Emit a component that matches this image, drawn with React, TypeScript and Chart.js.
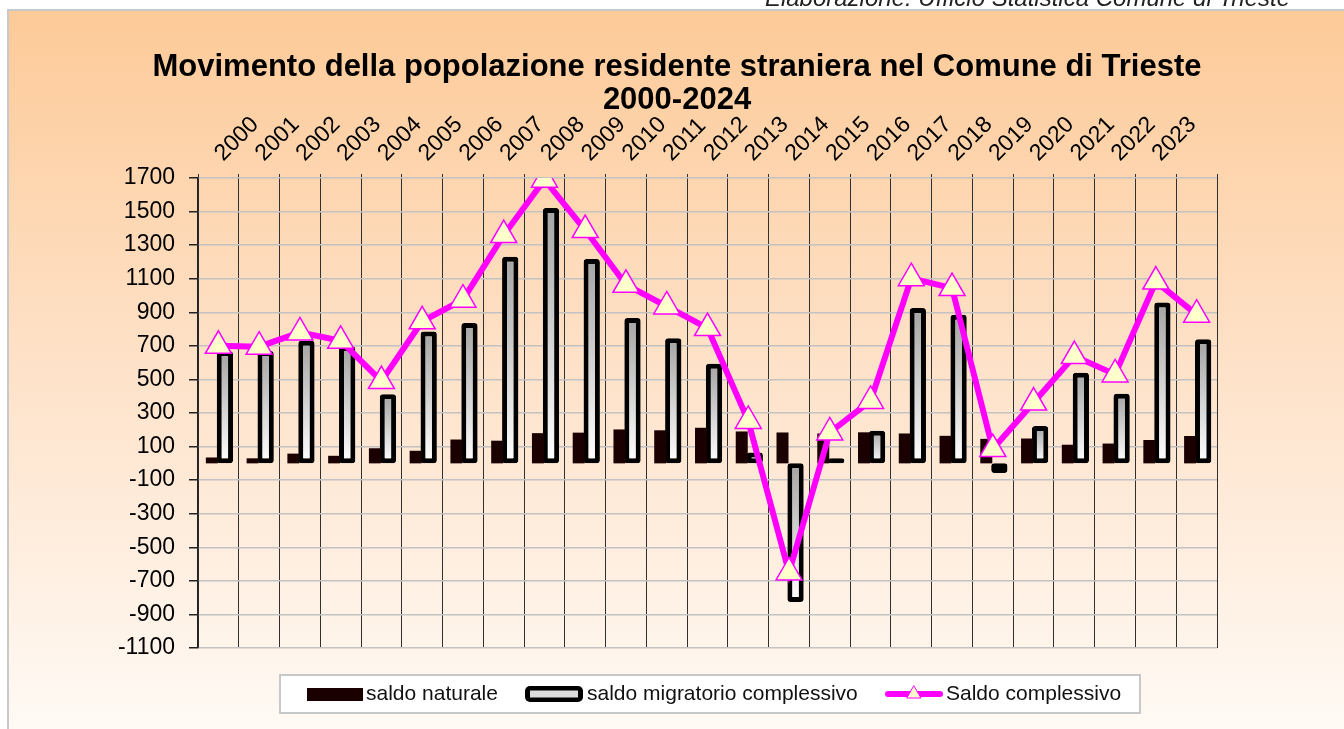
import React, { useEffect, useRef } from 'react';
import { Chart, registerables } from 'chart.js';

Chart.register(...registerables);

const years = ['2000', '2001', '2002', '2003', '2004', '2005', '2006', '2007', '2008', '2009', '2010', '2011', '2012', '2013', '2014', '2015', '2016', '2017', '2018', '2019', '2020', '2021', '2022', '2023', ''];
const saldoNaturale = [35, 30, 58, 45, 90, 75, 142, 135, 180, 183, 202, 197, 212, 190, 184, 178, 185, 178, 164, 146, 148, 111, 118, 139, 163];
const saldoMigratorio = [668, 670, 730, 698, 411, 786, 836, 1231, 1522, 1218, 866, 746, 593, 65, -826, 30, 195, 925, 886, -58, 222, 540, 414, 958, 740];
const saldoComplessivo = [700, 695, 780, 730, 490, 846, 975, 1360, 1690, 1390, 1064, 935, 806, 253, -650, 184, 372, 1103, 1044, 85, 362, 639, 530, 1083, 886];

const yMin = -1100;
const yMax = 1700;
const yStep = 200;

const titleLines = ['Movimento della popolazione residente straniera nel Comune di Trieste', '2000-2024'];
const sourceText = 'Elaborazione: Ufficio Statistica Comune di Trieste';
const legendLabels = ['saldo naturale', 'saldo migratorio complessivo', 'Saldo complessivo'];

const FONT = '"Liberation Sans", Arial, sans-serif';
const MAGENTA = '#ff00ff';
const DARK = '#1a0000';

const decorPlugin = {
  id: 'decor',
  beforeDraw(chart: any) {
    const { ctx, width, height } = chart;
    ctx.save();
    ctx.fillStyle = '#ffffff';
    ctx.fillRect(0, 0, width, height);
    const g = ctx.createLinearGradient(0, 10, 0, height);
    g.addColorStop(0, '#fdca98');
    g.addColorStop(0.5, '#fee2c9');
    g.addColorStop(1, '#fffaf5');
    ctx.fillStyle = g;
    ctx.fillRect(8, 10, width - 8, height - 10);
    ctx.strokeStyle = '#c8c8c8';
    ctx.lineWidth = 2;
    ctx.beginPath();
    ctx.moveTo(8, height);
    ctx.lineTo(8, 10);
    ctx.lineTo(width, 10);
    ctx.stroke();
    // source note (clipped at top)
    ctx.fillStyle = '#222';
    ctx.font = 'italic 24px ' + FONT;
    ctx.textAlign = 'right';
    ctx.textBaseline = 'alphabetic';
    ctx.fillText(sourceText, 1290, 6);
    // title
    ctx.fillStyle = '#000';
    ctx.font = 'bold 31px ' + FONT;
    ctx.textAlign = 'center';
    ctx.fillText(titleLines[0], 677, 76);
    ctx.fillText(titleLines[1], 677, 109);
    ctx.restore();
  },
  afterDraw(chart: any) {
    const { ctx } = chart;
    ctx.save();
    ctx.fillStyle = '#ffffff';
    ctx.fillRect(280, 675, 860, 38);
    ctx.strokeStyle = '#c8c8c8';
    ctx.lineWidth = 2;
    ctx.strokeRect(280, 675, 860, 38);
    const cy = 694;
    ctx.fillStyle = DARK;
    ctx.fillRect(307, 688, 56, 13);
    ctx.fillStyle = '#000';
    ctx.beginPath();
    (ctx as any).roundRect(525, 686, 58, 16, 5);
    ctx.fill();
    ctx.fillStyle = '#dcdcdc';
    ctx.fillRect(530, 690.5, 48, 7);
    ctx.strokeStyle = MAGENTA;
    ctx.lineWidth = 6;
    ctx.lineCap = 'round';
    ctx.beginPath();
    ctx.moveTo(888, cy);
    ctx.lineTo(940, cy);
    ctx.stroke();
    ctx.beginPath();
    const r = 8;
    ctx.moveTo(914, cy - r);
    ctx.lineTo(914 + r * 0.866, cy + r / 2);
    ctx.lineTo(914 - r * 0.866, cy + r / 2);
    ctx.closePath();
    ctx.fillStyle = '#ffffcc';
    ctx.fill();
    ctx.lineWidth = 1;
    ctx.stroke();
    ctx.fillStyle = '#111';
    ctx.font = '21px ' + FONT;
    ctx.textAlign = 'left';
    ctx.textBaseline = 'middle';
    ctx.fillText(legendLabels[0], 366, cy);
    ctx.fillText(legendLabels[1], 587, cy);
    ctx.fillText(legendLabels[2], 946, cy);
    ctx.restore();
  },
};

function migGradient(c: any) {
  const chart = c.chart;
  const yScale = chart.scales && chart.scales.y;
  if (!yScale || c.type !== 'data') return '#c8c8c8';
  const v = saldoMigratorio[c.dataIndex];
  const y0 = yScale.getPixelForValue(Math.max(v, 0));
  const y1 = yScale.getPixelForValue(Math.min(v, 0));
  if (!isFinite(y0) || !isFinite(y1) || y0 === y1) return '#c8c8c8';
  const g = chart.ctx.createLinearGradient(0, y0, 0, y1);
  g.addColorStop(0, '#a4a4a4');
  g.addColorStop(1, '#ffffff');
  return g;
}

export default function App() {
  const ref = useRef<HTMLCanvasElement | null>(null);
  useEffect(() => {
    if (!ref.current) return;
    const chart = new Chart(ref.current, {
      type: 'bar',
      data: {
        labels: years,
        datasets: [
          {
            type: 'line',
            label: legendLabels[2],
            data: saldoComplessivo,
            borderColor: MAGENTA,
            borderWidth: 6,
            pointStyle: 'triangle',
            pointRadius: 15,
            pointBackgroundColor: '#ffffcc',
            pointBorderColor: MAGENTA,
            pointBorderWidth: 1.5,
            tension: 0,
            order: 0,
          } as any,
          {
            type: 'bar',
            label: legendLabels[0],
            data: saldoNaturale,
            backgroundColor: DARK,
            borderColor: DARK,
            borderWidth: 0,
            categoryPercentage: 0.64,
            barPercentage: 0.92,
            order: 1,
          },
          {
            type: 'bar',
            label: legendLabels[1],
            data: saldoMigratorio,
            backgroundColor: migGradient,
            borderColor: '#000',
            borderWidth: 5,
            borderRadius: 3,
            borderSkipped: false,
            categoryPercentage: 0.64,
            barPercentage: 1.25,
            order: 2,
          } as any,
        ],
      },
      options: {
        responsive: false,
        animation: false,
        devicePixelRatio: 1,
        layout: { padding: { left: 0, top: 0, right: 127, bottom: 81 } },
        plugins: {
          legend: { display: false },
          title: { display: false },
          tooltip: { enabled: false },
        },
        scales: {
          x: {
            position: 'top',
            offset: true,
            afterFit: (s: any) => { s.height = 178; },
            grid: {
              offset: true,
              color: '#303030',
              lineWidth: 1,
              tickLength: 4,
              tickColor: '#303030',
              drawTicks: true,
            },
            border: { display: false },
            ticks: {
              autoSkip: false,
              maxRotation: 45,
              minRotation: 45,
              padding: 7,
              labelOffset: 20,
              color: '#000',
              font: { family: FONT, size: 23 },
            },
          },
          y: {
            min: yMin,
            max: yMax,
            afterFit: (s: any) => { s.width = 198; },
            border: { display: true, color: '#222', width: 1.5 },
            grid: {
              color: (c: any) => (c.tick && c.tick.value === 0 ? '#000' : '#c2c2c2'),
              lineWidth: (c: any) => (c.tick && c.tick.value === 0 ? 2 : 1.5),
              tickColor: '#222',
              tickLength: 9,
            },
            ticks: {
              stepSize: yStep,
              padding: 14,
              color: '#000',
              font: { family: FONT, size: 23 },
              callback: (v: any) => String(v),
            },
          },
        },
      },
      plugins: [decorPlugin],
    });
    return () => chart.destroy();
  }, []);
  return (
    <div style={{ position: 'absolute', left: 0, top: 0, width: 1344, height: 729 }}>
      <canvas ref={ref} width={1344} height={729} style={{ display: 'block', width: 1344, height: 729 }} />
    </div>
  );
}
